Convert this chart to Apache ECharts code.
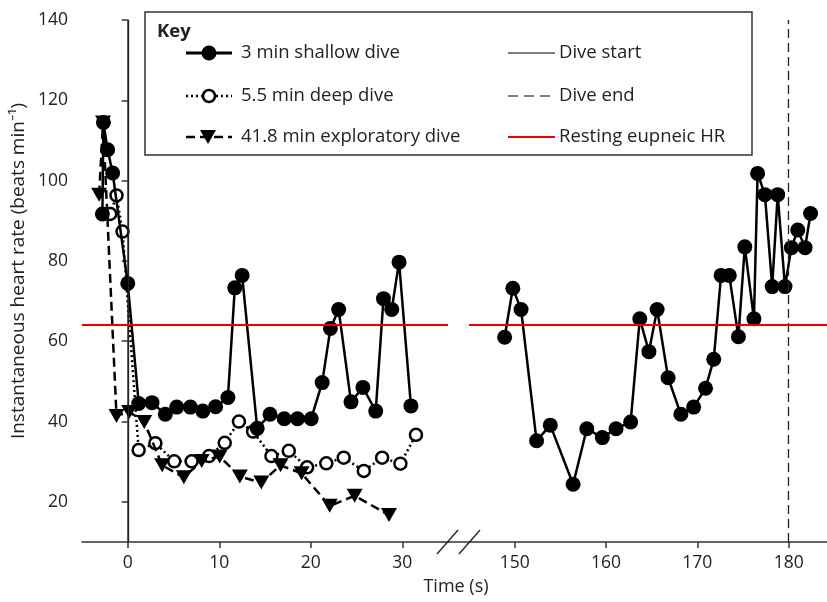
<!DOCTYPE html>
<html>
<head>
<meta charset="utf-8">
<script src="https://cdn.jsdelivr.net/npm/echarts@6/dist/echarts.min.js"></script>
<style>html,body{margin:0;padding:0;background:#fff}#c{width:827px;height:602px}</style>
</head>
<body>
<div id="c"></div>
<script>
// ---- data (time in s, heart rate in beats/min) ----
const shallowT1  = [-2.77, -2.66, -2.2, -1.65, 0.0, 1.2, 2.65, 4.1, 5.35, 6.85, 8.2, 9.6, 10.95, 11.7, 12.5, 14.15, 15.55, 17.1, 18.55, 20.05, 21.25, 22.15, 23.05, 24.4, 25.7, 27.1, 27.95, 28.85, 29.65, 30.95];
const shallowHR1 = [91.7, 114.5, 107.7, 101.9, 74.4, 44.5, 44.7, 41.8, 43.6, 43.6, 42.6, 43.7, 46.0, 73.3, 76.4, 38.3, 41.8, 40.7, 40.7, 40.7, 49.7, 63.2, 67.9, 44.9, 48.5, 42.6, 70.6, 67.9, 79.7, 43.9];
const shallowT2  = [148.9, 149.8, 150.7, 152.4, 153.9, 156.4, 157.9, 159.6, 161.1, 162.7, 163.7, 164.7, 165.6, 166.8, 168.2, 169.6, 170.9, 171.8, 172.6, 173.5, 174.5, 175.2, 176.2, 176.6, 177.4, 178.2, 178.8, 179.6, 180.3, 181.0, 181.8, 182.4];
const shallowHR2 = [61.0, 73.2, 67.9, 35.2, 39.1, 24.4, 38.2, 36.0, 38.2, 39.9, 65.6, 57.4, 67.9, 50.9, 41.8, 43.6, 48.3, 55.5, 76.4, 76.4, 61.1, 83.5, 65.6, 101.8, 96.5, 73.6, 96.5, 73.6, 83.3, 87.7, 83.3, 91.8];
const deepT  = [-1.92, -1.23, -0.57, 1.19, 3.02, 5.08, 6.98, 8.88, 10.6, 12.15, 13.7, 15.7, 17.6, 19.6, 21.7, 23.6, 25.8, 27.8, 29.8, 31.5];
const deepHR = [91.7, 96.3, 87.3, 32.9, 34.6, 30.1, 30.1, 31.4, 34.7, 40.0, 37.5, 31.4, 32.7, 28.6, 29.6, 31.0, 27.7, 31.0, 29.5, 36.7];
const explT  = [-3.13, -2.7, -1.23, 0.16, 1.8, 3.76, 6.13, 8.08, 10.05, 12.25, 14.6, 16.7, 19.0, 22.07, 24.8, 28.55];
const explHR = [96.5, 114.5, 41.4, 42.4, 39.9, 29.1, 26.1, 30.2, 31.3, 26.3, 24.8, 29.1, 27.1, 19.0, 21.5, 16.7];
const restingHR = 64.2;
const diveStart = 0;
const diveEnd = 180;
const xTicksLeft = [0, 10, 20, 30];
const xTicksRight = [150, 160, 170, 180];
const yTicks = [20, 40, 60, 80, 100, 120, 140];

const zip = (a, b) => a.map((v, i) => [v, b[i]]);
const FONT = 'Open Sans';
const AX = '#333';
const TXT = '#222';
const LF = '18.5px "Open Sans"';

const chart = echarts.init(document.getElementById('c'), null, {renderer: 'canvas'});

const redLine = {yAxis: restingHR, lineStyle: {color: '#ee0000', width: 2, type: 'solid'}};

const option = {
  animation: false,
  textStyle: {fontFamily: FONT},
  grid: [
    {left: 82, top: 20, width: 366, bottom: 60},
    {left: 469, top: 20, width: 358, bottom: 60}
  ],
  xAxis: [
    {type: 'value', gridIndex: 0, min: -5, max: 35,
     axisLine: {lineStyle: {color: AX, width: 1.5}},
     axisTick: {customValues: xTicksLeft, length: 6, lineStyle: {color: AX, width: 1.5}},
     axisLabel: {customValues: xTicksLeft, fontSize: 17.5, color: TXT, margin: 12, fontFamily: FONT},
     splitLine: {show: false}},
    {type: 'value', gridIndex: 1, min: 145, max: 184.2,
     axisLine: {lineStyle: {color: AX, width: 1.5}},
     axisTick: {customValues: xTicksRight, length: 6, lineStyle: {color: AX, width: 1.5}},
     axisLabel: {customValues: xTicksRight, fontSize: 17.5, color: TXT, margin: 12, fontFamily: FONT},
     splitLine: {show: false}}
  ],
  yAxis: [
    {type: 'value', gridIndex: 0, min: 10, max: 140,
     axisLine: {show: true, lineStyle: {color: AX, width: 1.5}},
     axisTick: {show: true, customValues: yTicks, length: 6, lineStyle: {color: AX, width: 1.5}},
     axisLabel: {customValues: yTicks, fontSize: 17.5, color: TXT, margin: 14, fontFamily: FONT},
     splitLine: {show: false}},
    {type: 'value', gridIndex: 1, min: 10, max: 140, show: false, splitLine: {show: false}}
  ],
  series: [
    {type: 'line', name: '5.5 min deep dive', xAxisIndex: 0, yAxisIndex: 0, z: 2,
     data: zip(deepT, deepHR), symbol: 'circle', symbolSize: 12,
     itemStyle: {color: '#fff', borderColor: '#000', borderWidth: 2.5},
     lineStyle: {color: '#000', width: 2.5, type: [2, 3]}},
    {type: 'line', name: '41.8 min exploratory dive', xAxisIndex: 0, yAxisIndex: 0, z: 3,
     data: zip(explT, explHR), symbol: 'triangle', symbolRotate: 180, symbolSize: [16, 14],
     itemStyle: {color: '#000'},
     lineStyle: {color: '#000', width: 2.5, type: [9, 5]}},
    {type: 'line', name: '3 min shallow dive', xAxisIndex: 0, yAxisIndex: 0, z: 4,
     data: zip(shallowT1, shallowHR1), symbol: 'circle', symbolSize: 15,
     itemStyle: {color: '#000'},
     lineStyle: {color: '#000', width: 2.5},
     markLine: {silent: true, symbol: ['none', 'none'], label: {show: false}, animation: false,
       data: [
         {xAxis: diveStart, lineStyle: {color: '#222', width: 1.3, type: 'solid'}},
         redLine
       ]}},
    {type: 'line', name: '3 min shallow dive', xAxisIndex: 1, yAxisIndex: 1, z: 4,
     data: zip(shallowT2, shallowHR2), symbol: 'circle', symbolSize: 15,
     itemStyle: {color: '#000'},
     lineStyle: {color: '#000', width: 2.5},
     markLine: {silent: true, symbol: ['none', 'none'], label: {show: false}, animation: false,
       data: [
         {xAxis: diveEnd, lineStyle: {color: '#222', width: 1.3, type: [9, 5]}},
         redLine
       ]}}
  ],
  graphic: [
    // axis continuation across the break and break marks
    {type: 'line', shape: {x1: 448, y1: 542, x2: 469, y2: 542}, style: {stroke: AX, lineWidth: 1.5}, z: 10},
    {type: 'line', shape: {x1: 437, y1: 554, x2: 458, y2: 530}, style: {stroke: '#222', lineWidth: 1.3}, z: 10},
    {type: 'line', shape: {x1: 459, y1: 554, x2: 480, y2: 530}, style: {stroke: '#222', lineWidth: 1.3}, z: 10},
    // axis titles
    {type: 'text', x: 456, y: 587, style: {text: 'Time (s)', font: '18px "Open Sans"', fill: TXT, textAlign: 'center', textVerticalAlign: 'middle'}, z: 10},
    {type: 'text', x: 19, y: 271, rotation: Math.PI / 2,
     style: {text: 'Instantaneous heart rate (beats min\u207B\u00B9)', font: '19px "Open Sans"', fill: TXT, textAlign: 'center', textVerticalAlign: 'middle'}, z: 10},
    // key box
    {type: 'rect', shape: {x: 145, y: 12, width: 607, height: 143}, style: {fill: '#fff', stroke: '#333', lineWidth: 1.5}, z: 20},
    {type: 'text', x: 157, y: 32, style: {text: 'Key', font: 'bold 18.5px "Open Sans"', fill: TXT, textVerticalAlign: 'middle'}, z: 21},
    // row 1
    {type: 'line', shape: {x1: 186, y1: 53, x2: 232, y2: 53}, style: {stroke: '#000', lineWidth: 3}, z: 21},
    {type: 'circle', shape: {cx: 209, cy: 53, r: 7.5}, style: {fill: '#000'}, z: 22},
    {type: 'text', x: 241, y: 53, style: {text: '3 min shallow dive', font: LF, fill: TXT, textVerticalAlign: 'middle'}, z: 21},
    // row 2
    {type: 'line', shape: {x1: 186, y1: 96, x2: 232, y2: 96}, style: {stroke: '#000', lineWidth: 2.5, lineDash: [2, 3]}, z: 21},
    {type: 'circle', shape: {cx: 209, cy: 96, r: 6}, style: {fill: '#fff', stroke: '#000', lineWidth: 2.5}, z: 22},
    {type: 'text', x: 241, y: 96, style: {text: '5.5 min deep dive', font: LF, fill: TXT, textVerticalAlign: 'middle'}, z: 21},
    // row 3
    {type: 'line', shape: {x1: 186, y1: 137, x2: 232, y2: 137}, style: {stroke: '#000', lineWidth: 2.5, lineDash: [9, 5]}, z: 21},
    {type: 'polygon', shape: {points: [[200, 130], [216, 130], [208, 144]]}, style: {fill: '#000'}, z: 22},
    {type: 'text', x: 241, y: 137, style: {text: '41.8 min exploratory dive', font: LF, fill: TXT, textVerticalAlign: 'middle'}, z: 21},
    // right column
    {type: 'line', shape: {x1: 508, y1: 53, x2: 555, y2: 53}, style: {stroke: '#000', lineWidth: 1.2}, z: 21},
    {type: 'text', x: 559, y: 53, style: {text: 'Dive start', font: LF, fill: TXT, textVerticalAlign: 'middle'}, z: 21},
    {type: 'line', shape: {x1: 508, y1: 96, x2: 555, y2: 96}, style: {stroke: '#000', lineWidth: 1.2, lineDash: [10, 6]}, z: 21},
    {type: 'text', x: 559, y: 96, style: {text: 'Dive end', font: LF, fill: TXT, textVerticalAlign: 'middle'}, z: 21},
    {type: 'line', shape: {x1: 508, y1: 137, x2: 555, y2: 137}, style: {stroke: '#ee0000', lineWidth: 2}, z: 21},
    {type: 'text', x: 559, y: 137, style: {text: 'Resting eupneic HR', font: LF, fill: TXT, textVerticalAlign: 'middle'}, z: 21}
  ]
};
chart.setOption(option);
</script>
</body>
</html>
